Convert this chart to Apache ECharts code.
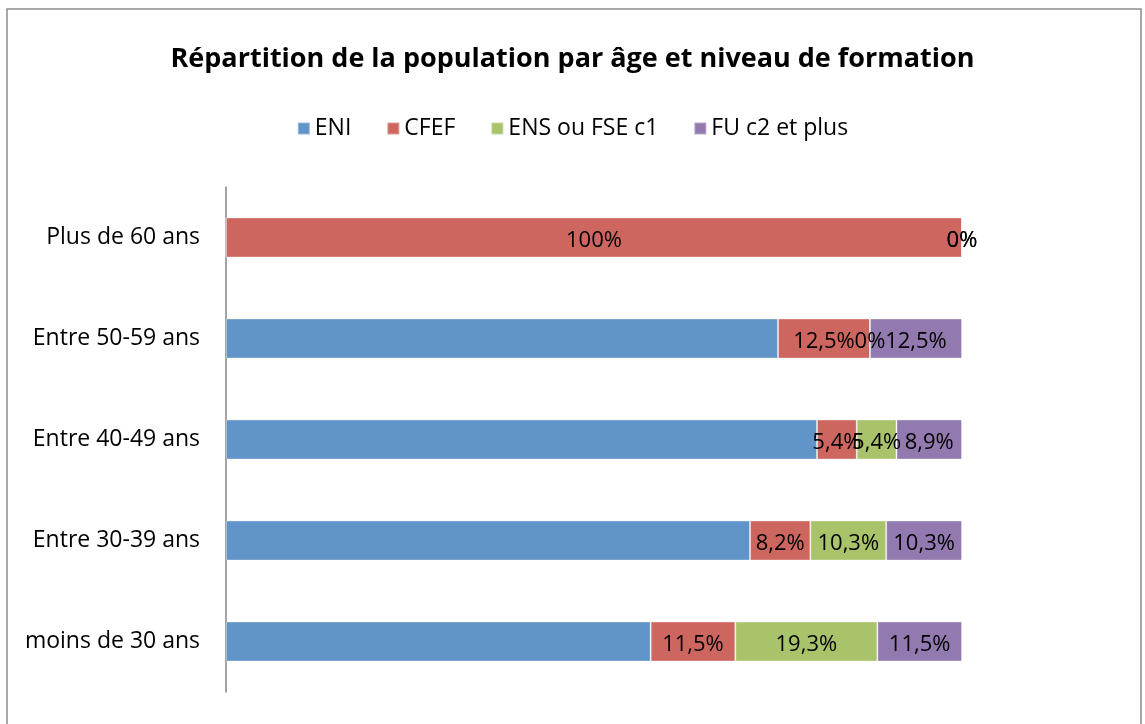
<!DOCTYPE html>
<html><head><meta charset="utf-8">
<script src="https://cdn.jsdelivr.net/npm/echarts@6/dist/echarts.min.js"></script>
<style>html,body{margin:0;padding:0;background:#fff}#c{width:1145px;height:724px}</style>
</head><body><div id="c"></div>
<script>
var categories = ['moins de 30 ans', 'Entre 30-39 ans', 'Entre 40-49 ans', 'Entre 50-59 ans', 'Plus de 60 ans'];
var seriesNames = ['ENI', 'CFEF', 'ENS ou FSE c1', 'FU c2 et plus'];
var eniValues = [57.7, 71.2, 80.3, 75.0, 0];
var cfefValues = [11.5, 8.2, 5.4, 12.5, 100];
var ensValues = [19.3, 10.3, 5.4, 0, 0];
var fuValues = [11.5, 10.3, 8.9, 12.5, 0];
var colors = ['#6194C8', '#CD665F', '#A8C36A', '#9279B0'];
var showLabels = [false, true, true, true];

var FONT = '"Open Sans", sans-serif';
function fmt(p) { return String(p.value).replace('.', ',') + '%'; }
var all = [eniValues, cfefValues, ensValues, fuValues];
var series = all.map(function (vals, i) {
  return {
    name: seriesNames[i], type: 'bar', stack: 'total', data: vals,
    barWidth: 40,
    itemStyle: { color: colors[i], borderColor: 'rgba(255,255,255,0.35)', borderWidth: 1 },
    label: { show: showLabels[i], position: 'inside', offset: [0, 3], formatter: fmt, color: '#000', fontSize: 22, fontFamily: FONT },
    emphasis: { disabled: true }
  };
});
var chart = echarts.init(document.getElementById('c'));
chart.setOption({
  animation: false,
  color: colors,
  title: { text: 'Répartition de la population par âge et niveau de formation', left: 'center', top: 41,
    textStyle: { fontFamily: FONT, fontWeight: 'bold', fontSize: 27, color: '#000' } },
  legend: { top: 112, left: 'center', itemWidth: 12, itemHeight: 12, itemGap: 35, icon: 'rect',
    textStyle: { fontFamily: FONT, fontSize: 23, color: '#000', padding: [0, 0, 0, 0] } },
  graphic: [{ type: 'rect', shape: { x: 7, y: 9, width: 1134, height: 730 },
    style: { fill: 'none', stroke: '#8c8c8c', lineWidth: 1.5 }, silent: true, z: -1 }],
  grid: { left: 226, right: 183, top: 187, bottom: 32, containLabel: false },
  xAxis: { type: 'value', min: 0, max: 100, show: false },
  yAxis: { type: 'category', data: categories,
    axisLine: { show: true, lineStyle: { color: '#868686', width: 1.5 } },
    axisTick: { show: false },
    axisLabel: { fontFamily: FONT, fontSize: 23, color: '#000', margin: 26, padding: [8, 0, 0, 0] } },
  series: series
});
</script></body></html>
